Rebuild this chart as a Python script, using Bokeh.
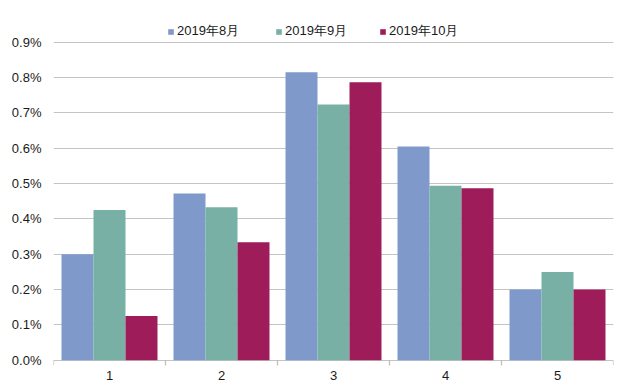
from bokeh.plotting import figure
from bokeh.models import (FactorRange, Range1d, FixedTicker, NumeralTickFormatter, Legend,
                          LegendItem, ColumnDataSource)
from bokeh.transform import dodge
from bokeh.embed import file_html
from bokeh.resources import INLINE

categories = ["1", "2", "3", "4", "5"]
series_names = ["2019年8月", "2019年9月", "2019年10月"]
aug = [0.0030, 0.00472, 0.00815, 0.00605, 0.0020]
sep = [0.00425, 0.00433, 0.00724, 0.00494, 0.0025]
octo = [0.00125, 0.00334, 0.00787, 0.00487, 0.0020]
y_ticks = [0, 0.001, 0.002, 0.003, 0.004, 0.005, 0.006, 0.007, 0.008, 0.009]

colors = ["#7F99CB", "#79B0A5", "#9E1C5A"]
FONT = "Liberation Sans"
AXIS_GRAY = "#BFBFBF"

src = ColumnDataSource(dict(cat=categories, aug=aug, sep=sep, octo=octo))

y_bottom = -0.00015  # room below zero for the category boundary tick marks
y_top = 0.0097       # room above 0.9% for the legend
p = figure(width=625, height=392, x_range=FactorRange(*categories, range_padding=0),
           y_range=Range1d(y_bottom, y_top), output_backend="svg", toolbar_location=None,
           min_border_left=53, min_border_right=12, min_border_top=17, min_border_bottom=27)
p.outline_line_color = None
p.background_fill_color = "white"

w = 0.2857
r1 = p.vbar(x=dodge("cat", -w, range=p.x_range), top="aug", width=w, source=src,
            fill_color=colors[0], line_color=None)
r2 = p.vbar(x=dodge("cat", 0, range=p.x_range), top="sep", width=w, source=src,
            fill_color=colors[1], line_color=None)
r3 = p.vbar(x=dodge("cat", w, range=p.x_range), top="octo", width=w, source=src,
            fill_color=colors[2], line_color=None)

# tick marks at category boundaries below the zero line
p.segment(x0=dodge("cat", -0.5, range=p.x_range), y0=0,
          x1=dodge("cat", -0.5, range=p.x_range), y1=y_bottom,
          source=src, line_color=AXIS_GRAY, line_width=1.2)
p.segment(x0=dodge("cat", 0.5, range=p.x_range), y0=0,
          x1=dodge("cat", 0.5, range=p.x_range), y1=y_bottom,
          source=src, line_color=AXIS_GRAY, line_width=1.2)

# y axis
p.yaxis.ticker = FixedTicker(ticks=y_ticks)
p.yaxis.formatter = NumeralTickFormatter(format="0.0%")
p.yaxis.axis_line_color = None
p.yaxis.major_tick_line_color = None
p.yaxis.minor_tick_line_color = None
p.yaxis.major_tick_out = 0
p.yaxis.major_tick_in = 0
p.yaxis.major_label_standoff = 12
p.yaxis.major_label_text_font = FONT
p.yaxis.major_label_text_font_size = "13px"
p.yaxis.major_label_text_color = "#1a1a1a"

p.xgrid.grid_line_color = None
p.ygrid.ticker = FixedTicker(ticks=y_ticks)
p.ygrid.grid_line_color = "#C4C4C4"
p.ygrid.grid_line_width = 1.2

# category axis
p.xaxis.axis_line_color = None
p.xaxis.major_tick_line_color = None
p.xaxis.major_tick_out = 0
p.xaxis.major_tick_in = 0
p.xaxis.major_label_standoff = 5
p.xaxis.major_label_text_font = FONT
p.xaxis.major_label_text_font_size = "13px"
p.xaxis.major_label_text_color = "#1a1a1a"

# legend: one entry per series, placed individually
legend_x = [114, 222, 326]
for name, rend, lx in zip(series_names, [r1, r2, r3], legend_x):
    lg = Legend(items=[LegendItem(label=name, renderers=[rend])],
                orientation="horizontal", location=(lx, 325),
                glyph_width=7, glyph_height=7, label_standoff=3,
                label_text_font=FONT, label_text_font_size="13px",
                label_text_color="#1a1a1a", border_line_color=None,
                background_fill_alpha=0, padding=0, margin=0)
    p.add_layout(lg, "center")

open("out.html", "w").write(file_html(p, INLINE))
